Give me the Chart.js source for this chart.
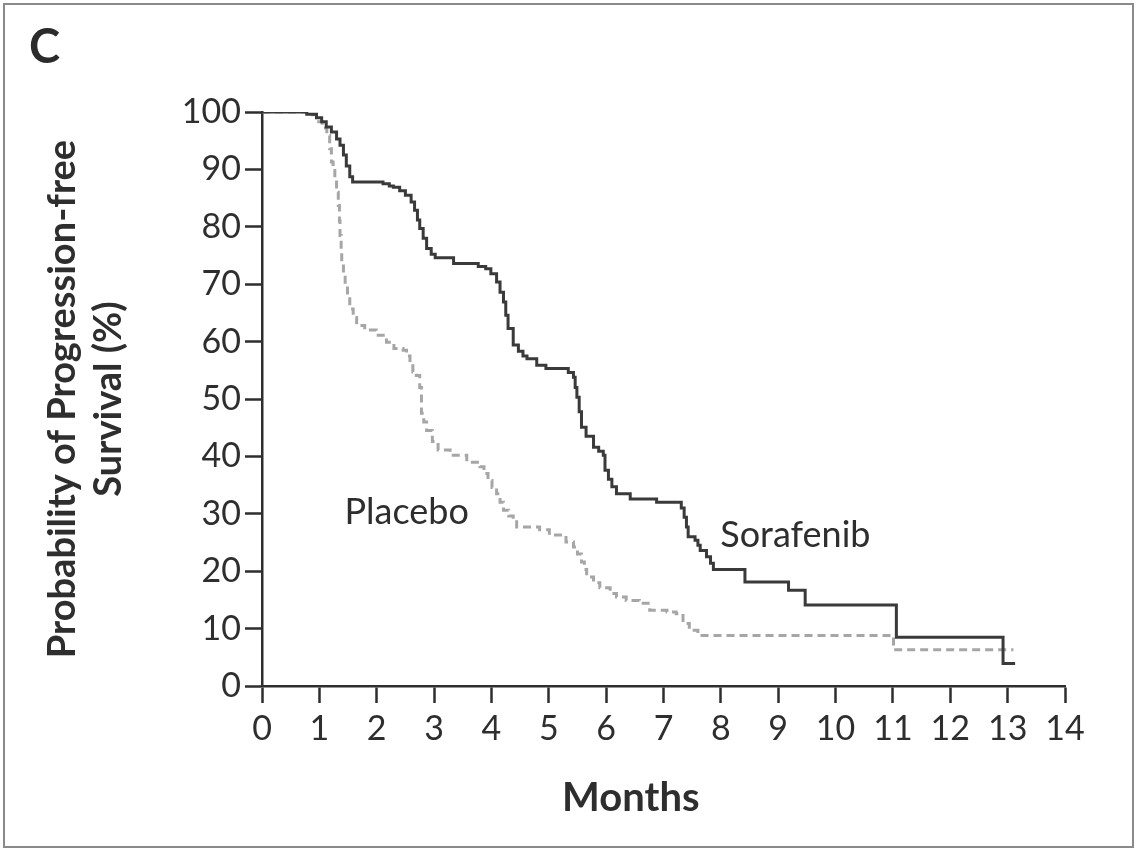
<!DOCTYPE html>
<html>
<head>
<meta charset="utf-8">
<script src="https://cdn.jsdelivr.net/npm/chart.js@4.4.1/dist/chart.umd.min.js"></script>
<style>
  html, body { margin: 0; padding: 0; background: #fff; }
  #wrap { position: relative; width: 1138px; height: 852px; }
  #frame { position: absolute; left: 3px; top: 3px; width: 1131px; height: 845px;
           border: 2px solid #8a8a8a; box-sizing: border-box; pointer-events: none; }
  #panel { position: absolute; left: 29px; top: 17px; font: bold 47px Lato, sans-serif; color: #2b2b2b; }
</style>
</head>
<body>
<div id="wrap">
  <canvas id="myChart" width="1138" height="852"></canvas>
  <div id="panel">C</div>
  <div id="frame"></div>
</div>
<script>
// Kaplan-Meier steps (months, % progression-free)
var sorafenibMonths = [0, 0.78, 0.95, 1.04, 1.12, 1.21, 1.30, 1.36, 1.42, 1.47, 1.53, 1.58,
    2.11, 2.22, 2.29, 2.40, 2.50, 2.60, 2.66, 2.71, 2.75, 2.81, 2.87, 2.95, 3.02,
    3.34, 3.77, 3.90, 3.99, 4.09, 4.15, 4.21, 4.25, 4.29, 4.38, 4.47, 4.55, 4.62,
    4.79, 4.95, 5.34, 5.43, 5.46, 5.49, 5.53, 5.57, 5.65, 5.78, 5.87, 5.95, 5.98,
    6.04, 6.10, 6.18, 6.42, 6.88, 7.31, 7.36, 7.40, 7.43, 7.55, 7.60, 7.64, 7.75,
    7.82, 7.87, 8.42, 9.18, 9.47, 11.06, 12.92, 13.13];
var sorafenibPct = [100, 99.6, 99, 98.3, 97.4, 96.5, 95.3, 94.2, 92.5, 90.6, 88.7, 87.8,
    87.5, 87.1, 86.9, 86.3, 85.5, 84.3, 82.9, 81.2, 79.7, 78.0, 76.2, 75.2, 74.6,
    73.6, 73.1, 72.7, 71.8, 70.4, 68.6, 66.9, 64.6, 62.3, 59.4, 58.3, 57.5, 57.0,
    55.9, 55.3, 54.6, 53.8, 52.0, 50.3, 47.8, 45.1, 43.5, 41.6, 40.9, 40.2, 37.6,
    36.0, 34.7, 33.5, 32.6, 32.0, 31.0, 29.4, 27.7, 26.0, 25.4, 24.5, 23.6, 22.5,
    21.4, 20.3, 18.1, 16.7, 14.1, 8.5, 3.9, 3.9];

var placeboMonths = [0, 0.78, 0.95, 1.05, 1.13, 1.18, 1.21, 1.24, 1.27, 1.30, 1.33, 1.35,
    1.36, 1.38, 1.39, 1.42, 1.45, 1.49, 1.53, 1.59, 1.65, 1.79, 1.99, 2.17, 2.30,
    2.46, 2.52, 2.58, 2.63, 2.69, 2.75, 2.78, 2.82, 2.87, 2.97, 3.07, 3.28, 3.57,
    3.80, 3.87, 3.94, 4.01, 4.09, 4.15, 4.21, 4.30, 4.38, 4.44, 4.84, 5.01, 5.30,
    5.43, 5.50, 5.57, 5.62, 5.66, 5.78, 5.89, 6.07, 6.18, 6.35, 6.58, 6.76, 7.06,
    7.22, 7.34, 7.45, 7.60, 11.01, 13.10];
var placeboPct = [100, 99.5, 98.3, 97.2, 95.9, 93.6, 91.3, 89.8, 88.4, 86.0, 83.7, 81.0,
    78.5, 76.0, 73.9, 71.8, 69.8, 67.8, 65.7, 64.2, 62.8, 62.0, 61.1, 59.9, 58.8,
    58.5, 57.5, 56.4, 54.7, 54.1, 52.0, 47.5, 46.0, 44.5, 42.6, 41.1, 40.2, 39.0,
    38.2, 37.0, 35.8, 34.6, 33.5, 32.0, 30.6, 29.6, 28.6, 27.7, 27.2, 26.3, 25.1,
    24.2, 23.0, 21.6, 20.3, 19.0, 18.0, 17.1, 16.1, 15.5, 14.9, 14.4, 13.2, 12.9,
    12.6, 10.9, 9.7, 8.8, 6.3, 6.3];

var xTicks = [0, 1, 2, 3, 4, 5, 6, 7, 8, 9, 10, 11, 12, 13, 14];
var yTicks = [0, 10, 20, 30, 40, 50, 60, 70, 80, 90, 100];

function toPoints(xs, ys) {
    return xs.map(function (x, i) { return { x: x, y: ys[i] }; });
}

var ink = '#2e2e2e';

// curve names next to the lines (data units) + the x axis name, which sits left of centre
var curveLabels = {
    id: 'curveLabels',
    afterDatasetsDraw: function (chart) {
        var ctx = chart.ctx, xs = chart.scales.x, ys = chart.scales.y;
        ctx.save();
        ctx.font = '36px Lato, sans-serif';
        ctx.fillStyle = ink;
        ctx.textBaseline = 'alphabetic';
        ctx.fillText('Placebo', xs.getPixelForValue(1.44), ys.getPixelForValue(28.3));
        ctx.fillText('Sorafenib', xs.getPixelForValue(7.99), ys.getPixelForValue(24.2));
        ctx.font = 'bold 40px Lato, sans-serif';
        ctx.textAlign = 'center';
        ctx.fillText('Months', xs.getPixelForValue(6.43), xs.bottom - 41);
        ctx.restore();
    }
};

var ctx = document.getElementById('myChart').getContext('2d');
var myChart = new Chart(ctx, {
    type: 'line',
    data: {
        datasets: [{
            label: 'Sorafenib',
            data: toPoints(sorafenibMonths, sorafenibPct),
            borderColor: '#3a3a3a',
            borderWidth: 3,
            stepped: 'before',
            pointRadius: 0,
            fill: false
        }, {
            label: 'Placebo',
            data: toPoints(placeboMonths, placeboPct),
            borderColor: '#a6a6a6',
            borderWidth: 3,
            borderDash: [8, 5],
            stepped: 'before',
            pointRadius: 0,
            fill: false
        }]
    },
    options: {
        responsive: false,
        animation: false,
        layout: { padding: { left: 0, top: 112, right: 73, bottom: 0 } },
        plugins: { legend: { display: false }, tooltip: { enabled: false } },
        scales: {
            x: {
                type: 'linear',
                min: 0,
                max: 14,
                afterFit: function (s) { s.height = 166; },
                afterBuildTicks: function (s) { s.ticks = xTicks.map(function (v) { return { value: v }; }); },
                ticks: { font: { family: 'Lato', size: 34 }, color: ink, padding: 6, maxRotation: 0, autoSkip: false },
                grid: { drawOnChartArea: false, tickLength: 17, tickWidth: 2.5, color: ink },
                border: { color: ink, width: 2.5 },
                title: { display: false }
            },
            y: {
                min: 0,
                max: 100,
                afterFit: function (s) { s.width = 262; },
                afterBuildTicks: function (s) { s.ticks = yTicks.map(function (v) { return { value: v }; }); },
                ticks: { font: { family: 'Lato', size: 34 }, color: ink, padding: 4 },
                grid: { drawOnChartArea: false, tickLength: 17, tickWidth: 2.5, color: ink },
                border: { color: ink, width: 2.5 },
                title: { display: true, text: ['Probability of Progression-free', 'Survival (%)'], color: ink,
                         font: { family: 'Lato', size: 38, weight: 'bold', lineHeight: 1.2 },
                         padding: { top: 40, bottom: 0 } }
            }
        }
    },
    plugins: [curveLabels]
});
</script>
</body>
</html>
